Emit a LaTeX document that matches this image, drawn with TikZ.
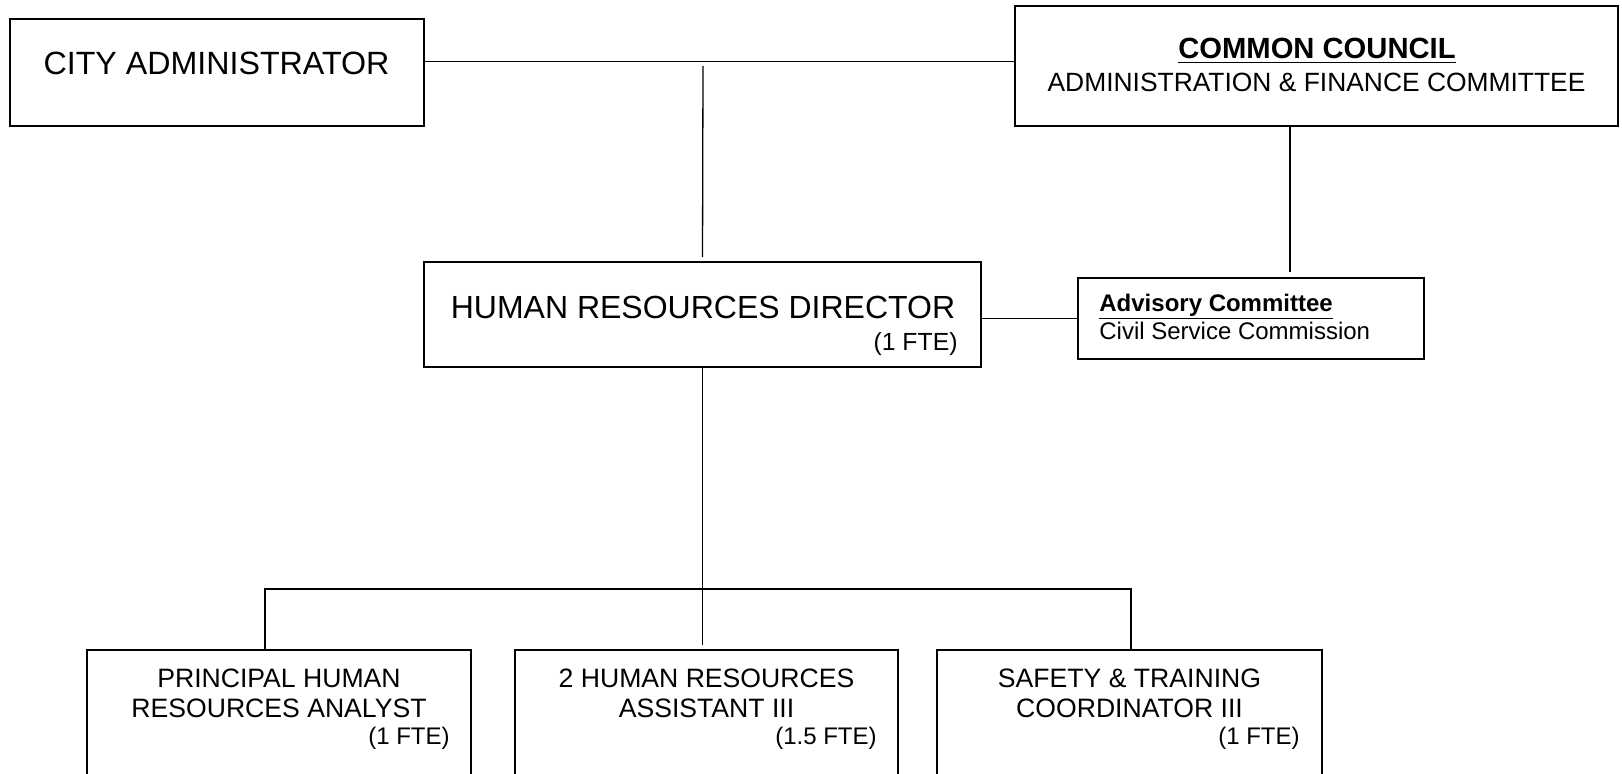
\documentclass[tikz,border=0pt]{standalone}
\usepackage{fontspec}
\setmainfont{Liberation Sans}
\usetikzlibrary{positioning,calc}

\begin{document}
\begin{tikzpicture}[x=0.5pt, y=0.5pt]
	\tikzstyle{unit}=[draw=black, line width=0.9pt, inner sep=0]
	\tikzstyle{txt}=[inner sep=0, text=black]
	\tikzstyle{link}=[draw=black, line width=0.65pt]
	\useasboundingbox (0,0) rectangle (1622,773);
	% boxes
	\node[unit, minimum width=207pt, minimum height=53.5pt]   (cityadm) at (217,700.5) {};
	\node[unit, minimum width=301.5pt, minimum height=60pt]   (council) at (1316.5,707) {};
	\node[unit, minimum width=278.5pt, minimum height=52.5pt] (hrdir)   at (702.5,458.5) {};
	\node[unit, minimum width=173pt, minimum height=40.5pt]   (advis)   at (1251,454.5) {};
	\node[unit, minimum width=192pt, minimum height=80pt]     (analyst) at (279,43) {};
	\node[unit, minimum width=191.5pt, minimum height=80pt]   (assist)  at (706.5,43) {};
	\node[unit, minimum width=192.5pt, minimum height=80pt]   (safety)  at (1129.5,43) {};
	% texts
	\node[txt, anchor=base, font=\fontsize{16.1}{18}\selectfont] (cityadm-t) at (216.5,698) {CITY ADMINISTRATOR};
	\node[txt, anchor=base, font=\fontsize{14.6}{17}\selectfont\bfseries] (council-t1) at (1317,714) {\underline{COMMON COUNCIL}};
	\node[txt, anchor=base, font=\fontsize{13.2}{15}\selectfont] (council-t2) at (1316.5,681) {ADMINISTRATION \& FINANCE COMMITTEE};
	\node[txt, anchor=base, font=\fontsize{16}{18}\selectfont] (hrdir-t) at (703,455) {HUMAN RESOURCES DIRECTOR};
	\node[txt, anchor=base east, font=\fontsize{12.4}{14}\selectfont] (hrdir-fte) at (958,423) {(1 FTE)};
	\node[txt, anchor=base west, font=\fontsize{12}{14}\selectfont\bfseries] (advis-t1) at (1099,462) {\underline{Advisory Committee}};
	\node[txt, anchor=base west, font=\fontsize{12}{14}\selectfont] (advis-t2) at (1099,433.5) {Civil Service Commission};
	\node[txt, anchor=north, align=center, font=\fontsize{13.3}{15}\selectfont] (analyst-t) at (279,104) {PRINCIPAL HUMAN\\RESOURCES ANALYST};
	\node[txt, anchor=base east, font=\fontsize{12}{14}\selectfont] (analyst-fte) at (450,29) {(1 FTE)};
	\node[txt, anchor=north, align=center, font=\fontsize{13.3}{15}\selectfont] (assist-t) at (706.5,104) {2 HUMAN RESOURCES\\ASSISTANT III};
	\node[txt, anchor=base east, font=\fontsize{12}{14}\selectfont] (assist-fte) at (877,29) {(1.5 FTE)};
	\node[txt, anchor=north, align=center, font=\fontsize{13.3}{15}\selectfont] (safety-t) at (1129.5,104) {SAFETY \& TRAINING\\COORDINATOR III};
	\node[txt, anchor=base east, font=\fontsize{12}{14}\selectfont] (safety-fte) at (1300,29) {(1 FTE)};
	% connectors
	\coordinate (topline) at (0,711.5);
	\coordinate (split) at (703,707);
	\coordinate (cc) at (1290,0);
	\coordinate (busL) at (265,184);
	\coordinate (busR) at (1131,184);
	\draw[link] (cityadm.east |- topline) -- (council.west |- topline);
	\draw[link, shorten >=2pt] (split) -- (hrdir.north);
	\draw[link, shorten >=2.5pt] (council.south -| cc) -- (advis.north -| cc);
	\draw[link] (hrdir.east |- advis.west) -- (advis.west);
	\draw[link, shorten >=2pt] (hrdir.south) -- (hrdir.south |- assist.north);
	\draw[link] (analyst.north -| busL) -- (busL) -- (busR) -- (safety.north -| busR);
\end{tikzpicture}
\end{document}
